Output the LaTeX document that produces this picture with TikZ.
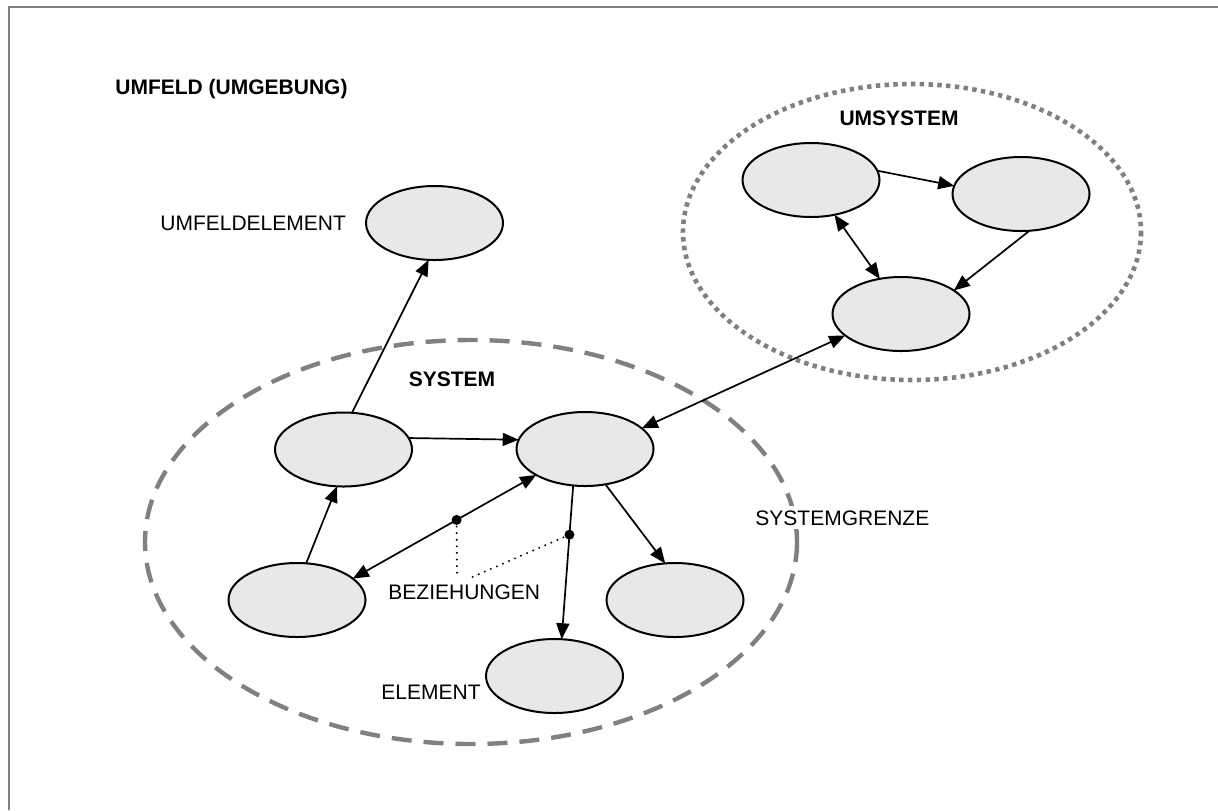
\documentclass[tikz,border=0pt]{standalone}
\usepackage{fontspec}
\setmainfont{Liberation Sans}
\usetikzlibrary{shapes.geometric,arrows.meta}
\definecolor{elemfill}{HTML}{E8E8E8}
\definecolor{boundgray}{HTML}{808080}
\begin{document}
\begin{tikzpicture}[x=0.5pt,y=-0.5pt,
  elem/.style={ellipse,draw,line width=1pt,fill=elemfill,
    minimum width=68.5pt,minimum height=37pt,inner sep=0pt,outer sep=0pt},
  tip/.tip={Triangle[length=8pt,width=6.5pt]},
  rel/.style={line width=0.85pt,-tip},
  relboth/.style={line width=0.85pt,tip-tip},
  lbl/.style={anchor=base west,inner sep=0pt,font=\fontsize{10.5}{12}\selectfont},
  lblbold/.style={lbl,anchor=base,font=\fontsize{10.5}{12}\selectfont\bfseries},
  reldot/.style={fill,circle,minimum size=5pt,inner sep=0pt},
  pointer/.style={line width=1.1pt,line cap=round,dash pattern=on 0pt off 3.3pt},
  sysbound/.style={draw=boundgray,line width=2.2pt,dash pattern=on 10pt off 6pt},
  umsysbound/.style={draw=boundgray,line width=2.3pt,dash pattern=on 2.2pt off 2.2pt},
]
\useasboundingbox (0,0) rectangle (1218,810);
% frame (top and left edge)
\draw[boundgray,line width=1pt] (9,810) -- (9,7) -- (1218,7);

% system and surrounding-system boundaries
\draw[sysbound] (471,542) ellipse [x radius=326, y radius=202];
\draw[umsysbound] (912,232) ellipse [x radius=229, y radius=148];

% labels
\node[lblbold,anchor=base west] (tumfeld) at (115,94) {UMFELD (UMGEBUNG)};
\node[lbl] (tumfeldel) at (160,230) {UMFELDELEMENT};
\node[lblbold] (tumsys) at (899,125) {UMSYSTEM};
\node[lblbold] (tsys) at (452,386) {SYSTEM};
\node[lbl,fill=white,inner xsep=1pt,inner ysep=2pt] (tgrenze) at (753,525) {SYSTEMGRENZE};
\node[lbl] (tbez) at (388,599) {BEZIEHUNGEN};
\node[lbl] (telem) at (381,699) {ELEMENT};

% elements
\node[elem] (U) at (434.5,223) {};
\node[elem] (A) at (343.5,449.5) {};
\node[elem] (C) at (585,449) {};
\node[elem] (LL) at (297,600) {};
\node[elem] (LR) at (675,600) {};
\node[elem] (E) at (554.5,676) {};
\node[elem] (P) at (811,180) {};
\node[elem] (Q) at (1021,194) {};
\node[elem] (R) at (901,314) {};

% relations
\draw[rel] (A.77) -- (U.-99);
\draw[rel] (A.10) -- (C.172);
\draw[rel] (LL.76) -- (A.-100);
\draw[relboth] (LL.21) -- coordinate[pos=0.566] (d1) (C.208);
\draw[rel] (C.-108) -- coordinate[pos=0.32] (d2) (E.79);
\draw[rel] (C.-60) -- (LR.105);
\draw[relboth] (C.20) -- (R.201);
\draw[rel] (P.8) -- (Q.173);
\draw[relboth] (P.-56) -- (R.121);
\draw[rel] (Q.-77) -- (R.24);

% pointers from the label to two relations
\coordinate (p1) at (457,577);
\coordinate (p2) at (470,578);
\draw[pointer] (d1) -- (p1);
\draw[pointer] (d2) -- (p2);
\node[reldot] (dot1) at (d1) {};
\node[reldot] (dot2) at (d2) {};
\end{tikzpicture}
\end{document}
